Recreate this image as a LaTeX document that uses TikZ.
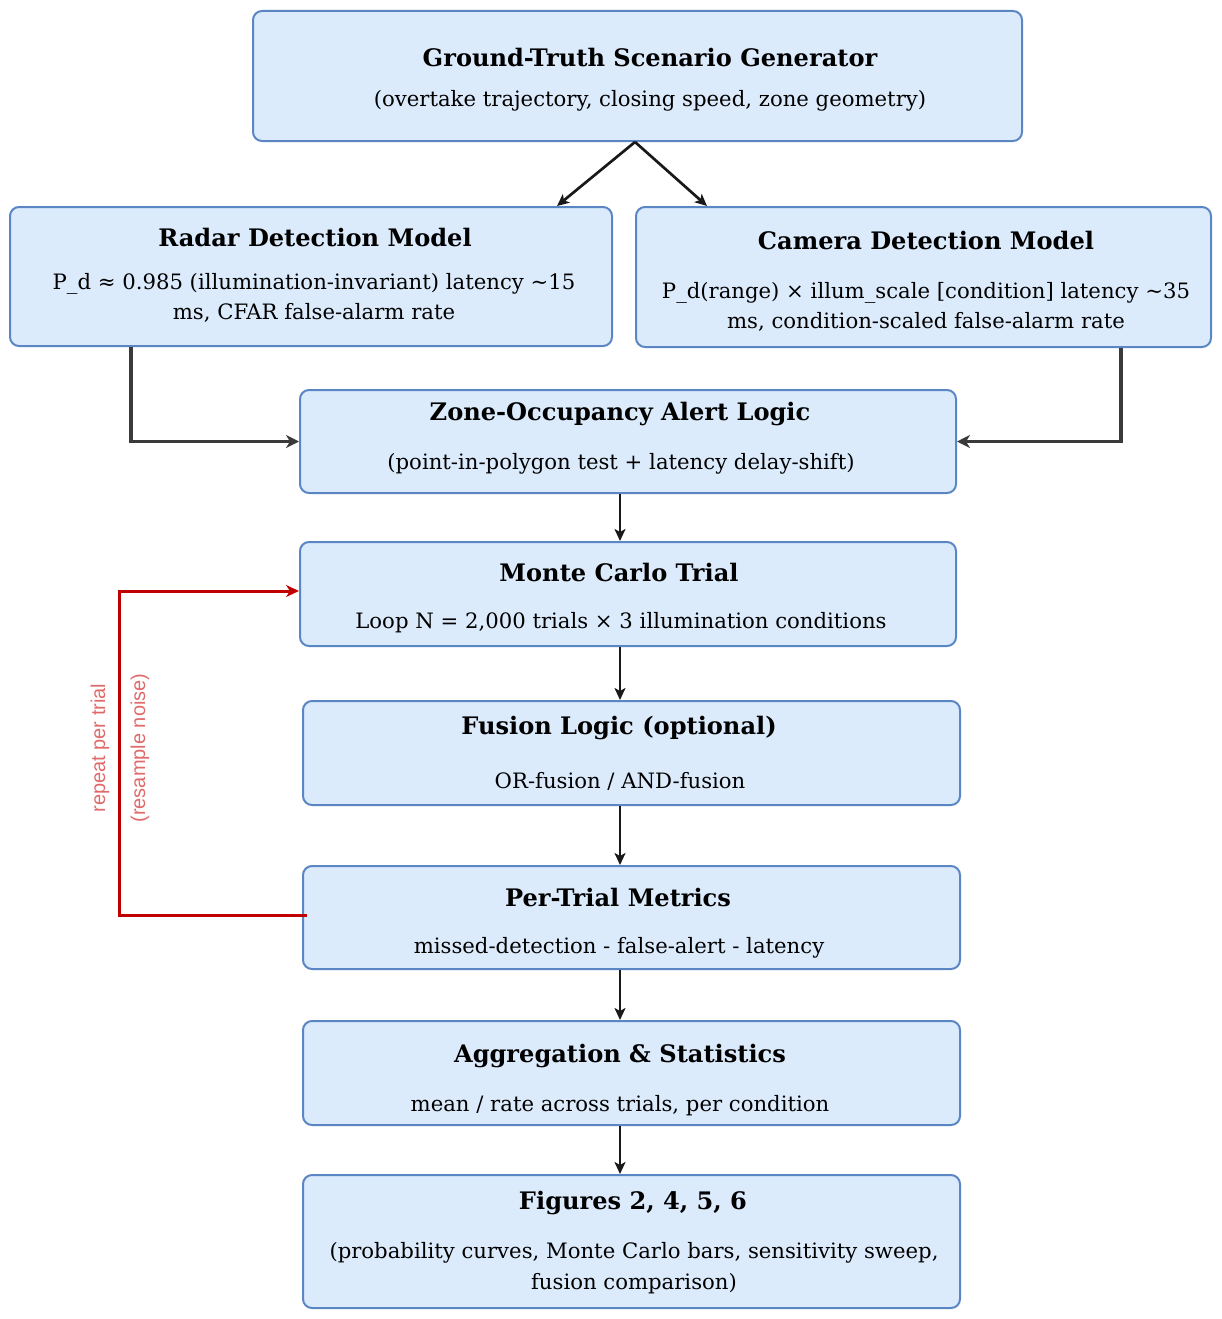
\documentclass[tikz,border=0pt]{standalone}
\usepackage{fontspec}
\setmainfont{DejaVu Serif}
\newfontfamily\labelfont{Liberation Sans}
\usetikzlibrary{arrows.meta,calc}
\definecolor{boxfill}{HTML}{DCEBFC}
\definecolor{boxline}{HTML}{5A86C4}
\definecolor{arrgray}{HTML}{3A3A3A}
\definecolor{loopred}{HTML}{C00000}
\definecolor{labred}{HTML}{E06A6A}
\tikzset{
  flowbox/.style={rectangle, rounded corners=9pt, fill=boxfill, draw=boxline, line width=2pt, inner sep=0pt},
  ttl/.style={font=\fontsize{24.1}{28}\selectfont\bfseries, inner sep=0pt, anchor=center},
  bdy/.style={font=\fontsize{21.2}{30.5}\selectfont, inner sep=0pt, anchor=center, align=center},
  arr/.style={draw=black!90, line width=2.7pt, -{Stealth[length=12pt,width=11pt,inset=3pt]}},
  elbow/.style={draw=arrgray, line width=3.8pt, -{Stealth[length=13pt,width=13pt,inset=4pt]}},
  looparr/.style={draw=loopred, line width=3pt, -{Stealth[length=13pt,width=12pt,inset=4pt]}},
  looplab/.style={font=\labelfont\fontsize{20}{22}\selectfont, text=labred, rotate=90, align=center, inner sep=0pt}
}
\begin{document}
\begin{tikzpicture}[x=1pt,y=-1pt]
\useasboundingbox (0,0) rectangle (1222,1319);
% boxes
\node[flowbox, minimum width=769pt, minimum height=130pt] (gt) at (637.5,76) {};
\node[flowbox, minimum width=602pt, minimum height=139pt] (radar) at (311,276.5) {};
\node[flowbox, minimum width=575pt, minimum height=140pt] (camera) at (923.5,277) {};
\node[flowbox, minimum width=656pt, minimum height=103pt] (zone) at (628,441.5) {};
\node[flowbox, minimum width=656pt, minimum height=104pt] (mc) at (628,594) {};
\node[flowbox, minimum width=657pt, minimum height=104pt] (fusion) at (631.5,753) {};
\node[flowbox, minimum width=657pt, minimum height=103pt] (metrics) at (631.5,917.5) {};
\node[flowbox, minimum width=657pt, minimum height=104pt] (agg) at (631.5,1073) {};
\node[flowbox, minimum width=657pt, minimum height=133pt] (figs) at (631.5,1241.5) {};
% texts
\node[ttl] (gt-t) at (650,58) {Ground-Truth Scenario Generator};
\node[bdy] (gt-b) at (650,101) {(overtake trajectory, closing speed, zone geometry)};
\node[ttl] (radar-t) at (315,238) {Radar Detection Model};
\node[bdy] (radar-b) at (314,298) {P\_d ≈ 0.985 (illumination-invariant) latency \textasciitilde15\\ms, CFAR false-alarm rate};
\node[ttl] (camera-t) at (926,241) {Camera Detection Model};
\node[bdy] (camera-b) at (926,307) {P\_d(range) × illum\_scale [condition] latency \textasciitilde35\\ms, condition-scaled false-alarm rate};
\node[ttl] (zone-t) at (620,414) {Zone-Occupancy Alert Logic};
\node[bdy] (zone-b) at (621,464) {(point-in-polygon test + latency delay-shift)};
\node[ttl] (mc-t) at (619,573) {Monte Carlo Trial};
\node[bdy] (mc-b) at (621,623) {Loop N = 2,000 trials × 3 illumination conditions};
\node[ttl] (fusion-t) at (619,728) {Fusion Logic (optional)};
\node[bdy] (fusion-b) at (620,781) {OR-fusion / AND-fusion};
\node[ttl] (metrics-t) at (618,898) {Per-Trial Metrics};
\node[bdy] (metrics-b) at (619,948) {missed-detection - false-alert - latency};
\node[ttl] (agg-t) at (620,1056) {Aggregation \& Statistics};
\node[bdy] (agg-b) at (620,1106) {mean / rate across trials, per condition};
\node[ttl] (figs-t) at (633,1203) {Figures 2, 4, 5, 6};
\node[bdy] (figs-b) at (634,1268) {(probability curves, Monte Carlo bars, sensitivity sweep,\\fusion comparison)};
% helper coordinates
\coordinate (ax) at (620,0);
\coordinate (rx) at (131,0);
\coordinate (cx) at (1121,0);
\coordinate (lx) at (119,0);
\coordinate (gtsrc) at (635,142);
\coordinate (rtop) at (557,0);
\coordinate (ctop) at (707,0);
% connectors
\draw[arr] (gtsrc) -- (radar.north -| rtop);
\draw[arr] (gtsrc) -- (camera.north -| ctop);
\draw[elbow] (radar.south -| rx) |- (zone.west);
\draw[elbow] (camera.south -| cx) |- (zone.east);
\draw[arr] (zone.south -| ax) -- (mc.north -| ax);
\draw[arr] (mc.south -| ax) -- (fusion.north -| ax);
\draw[arr] (fusion.south -| ax) -- (metrics.north -| ax);
\draw[arr] (metrics.south -| ax) -- (agg.north -| ax);
\draw[arr] (agg.south -| ax) -- (figs.north -| ax);
\coordinate (mcin) at ($(mc.west)+(0,-3)$);
\draw[looparr] ($(metrics.west)+(5,-2)$) -- ($(metrics.west -| lx)+(0,-2)$) |- (mcin);
\node[looplab] (looplabel) at (120,748) {repeat per trial\\[18pt](resample noise)};
\end{tikzpicture}
\end{document}
